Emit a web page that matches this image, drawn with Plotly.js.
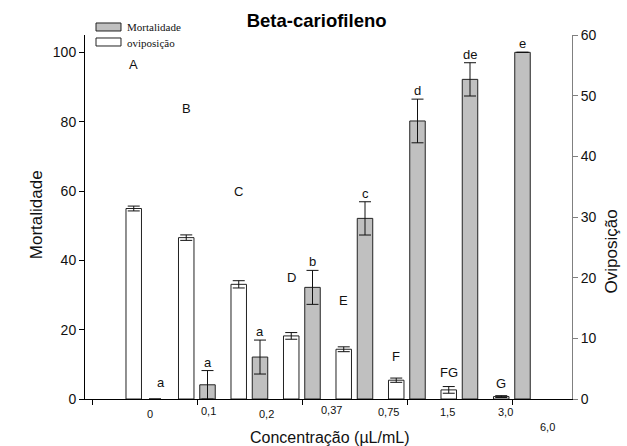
<!DOCTYPE html>
<html>
<head>
<meta charset="utf-8">
<script src="https://cdn.plot.ly/plotly-3.0.1.min.js"></script>
<style>
  html, body { margin: 0; padding: 0; background: #fff; }
  #chart { width: 627px; height: 446px; }
</style>
</head>
<body>
<div id="chart"></div>
<script>
// Concentrations tested (µL/mL) and the measured responses
const concentrations = ['0', '0,1', '0,2', '0,37', '0,75', '1,5', '3,0', '6,0'];
const mortalidade = [0, 4.1, 12.1, 32.2, 52.1, 80.2, 92.2, 100];
const mortalidadeErr = [0, 4.1, 4.9, 4.9, 4.8, 6.3, 4.8, 0];
const oviposicao = [31.4, 26.6, 18.9, 10.4, 8.2, 3.1, 1.5, 0.4];
const oviposicaoErr = [0.4, 0.45, 0.6, 0.55, 0.4, 0.35, 0.55, 0.15];
// Significance letters
const mortalidadeLetters = ['a', 'a', 'a', 'b', 'c', 'd', 'de', 'e'];
const oviposicaoLetters = ['A', 'B', 'C', 'D', 'E', 'F', 'FG', 'G'];

// ---- layout helpers (positions only) ----
const idx = concentrations.map((_, i) => i);
const GRAY_OFF = 0.2, WHITE_OFF = -0.205, BAR_W = 0.295;
// vertical placement of the upper-case letters (left-axis units)
const upperLetterY = [96.6, 83.7, 60.0, 35.1, 28.4, 12.4, 7.7, 4.5];
// staggered category labels below the axis: x in axis units, y shift in px
const catLabelX = [0.105, 1.215, 2.33, 3.566, 4.644, 5.775, 6.867, 7.67];
const catLabelShift = [-15, -12, -15, -11, -12.5, -12.5, -12.5, -28];

const sans = 'Liberation Sans, Arial, sans-serif';
const serif = 'Liberation Serif, Times New Roman, serif';

const traces = [
  {
    type: 'bar', name: 'Mortalidade',
    x: idx.map(i => i + GRAY_OFF), y: mortalidade, width: BAR_W,
    yaxis: 'y',
    // empty bars get no outline
    marker: { color: '#c0c0c0', line: { color: '#222', width: mortalidade.map(v => v ? 1 : 0) } },
    // no whisker is drawn where the spread is zero
    error_y: { type: 'data', array: mortalidadeErr.map(e => e || null), visible: true, color: '#111', thickness: 1, width: 6 },
    hoverinfo: 'skip', showlegend: false
  },
  {
    type: 'bar', name: 'oviposição',
    x: idx.map(i => i + WHITE_OFF), y: oviposicao, width: BAR_W,
    yaxis: 'y2',
    marker: { color: '#ffffff', line: { color: '#222', width: 1 } },
    error_y: { type: 'data', array: oviposicaoErr, visible: true, color: '#111', thickness: 1, width: 6 },
    hoverinfo: 'skip', showlegend: false
  }
];

const annotations = [];
// lower-case letters over mortality bars
idx.forEach(i => {
  const zero = mortalidade[i] === 0;
  annotations.push({
    x: i + GRAY_OFF, y: mortalidade[i] + mortalidadeErr[i], xref: 'x', yref: 'y',
    text: mortalidadeLetters[i], showarrow: false, yanchor: 'middle',
    xshift: zero ? 6 : 0, yshift: zero ? 17 : 8.5,
    font: { family: sans, size: 13, color: '#111' }
  });
});
// upper-case letters over oviposition bars
idx.forEach(i => {
  annotations.push({
    x: i + WHITE_OFF, y: upperLetterY[i], xref: 'x', yref: 'y',
    text: oviposicaoLetters[i], showarrow: false, yanchor: 'middle',
    font: { family: sans, size: 13, color: '#111' }
  });
});
// category labels
idx.forEach(i => {
  annotations.push({
    x: catLabelX[i], y: 0, xref: 'x', yref: 'paper',
    text: concentrations[i], showarrow: false, yanchor: 'middle', yshift: catLabelShift[i],
    font: { family: sans, size: 11, color: '#111' }
  });
});
// axis titles
annotations.push(
  { x: 0.503, y: 0, xref: 'paper', yref: 'paper', yshift: -38, yanchor: 'middle',
    text: 'Concentração (µL/mL)', showarrow: false, font: { family: sans, size: 16, color: '#111' } },
  { x: -0.1006, y: 0.505, xref: 'paper', yref: 'paper', textangle: -90, xanchor: 'center', yanchor: 'middle',
    text: 'Mortalidade', showarrow: false, font: { family: sans, size: 17, color: '#111' } },
  { x: 1.082, y: 0.405, xref: 'paper', yref: 'paper', textangle: -90, xanchor: 'center', yanchor: 'middle',
    text: 'Oviposição', showarrow: false, font: { family: sans, size: 17, color: '#111' } }
);
// legend text
annotations.push(
  { x: 0.0821, y: 1.022, xref: 'paper', yref: 'paper', xanchor: 'left', yanchor: 'middle',
    text: 'Mortalidade', showarrow: false, font: { family: serif, size: 11, color: '#111' } },
  { x: 0.0821, y: 0.978, xref: 'paper', yref: 'paper', xanchor: 'left', yanchor: 'middle',
    text: 'oviposição', showarrow: false, font: { family: serif, size: 11, color: '#111' } }
);

const shapes = [
  { type: 'rect', xref: 'paper', yref: 'paper', x0: 0.0226, x1: 0.0739, y0: 1.011, y1: 1.033,
    fillcolor: '#c0c0c0', line: { color: '#222', width: 1 } },
  { type: 'rect', xref: 'paper', yref: 'paper', x0: 0.0226, x1: 0.0739, y0: 0.9698, y1: 0.9918,
    fillcolor: '#ffffff', line: { color: '#222', width: 1 } }
];

const layout = {
  width: 627, height: 446,
  margin: { l: 85, r: 55, t: 35, b: 47, pad: 0 },
  paper_bgcolor: '#fff', plot_bgcolor: '#fff',
  barmode: 'overlay',
  showlegend: false,
  title: {
    text: 'Beta-cariofileno', x: 0.505, xanchor: 'center', y: 0.955, yanchor: 'middle', yref: 'container',
    font: { family: sans, size: 18.5, weight: 700, color: '#000' }
  },
  xaxis: {
    range: [-1.1333, 8.1429], showgrid: false, zeroline: false,
    showline: true, linecolor: '#000', linewidth: 1,
    ticks: 'outside', ticklen: 5, tickcolor: '#000', tickwidth: 1,
    tickvals: [-1, 1, 3, 5, 7], showticklabels: false, fixedrange: true
  },
  yaxis: {
    range: [0, 105], tickvals: [0, 20, 40, 60, 80, 100],
    showgrid: false, zeroline: false, showline: true, linecolor: '#000', linewidth: 1,
    ticks: 'outside', ticklen: 5, tickcolor: '#000',
    tickfont: { family: sans, size: 14, color: '#111' }, fixedrange: true
  },
  yaxis2: {
    overlaying: 'y', side: 'right', range: [0, 60], tickvals: [0, 10, 20, 30, 40, 50, 60],
    showgrid: false, zeroline: false, showline: true, linecolor: '#808080', linewidth: 1,
    ticks: 'outside', ticklen: 5, tickcolor: '#808080',
    tickfont: { family: sans, size: 14, color: '#111' }, fixedrange: true
  },
  annotations: annotations,
  shapes: shapes
};

Plotly.newPlot('chart', traces, layout, { displayModeBar: false, staticPlot: true });
</script>
</body>
</html>
